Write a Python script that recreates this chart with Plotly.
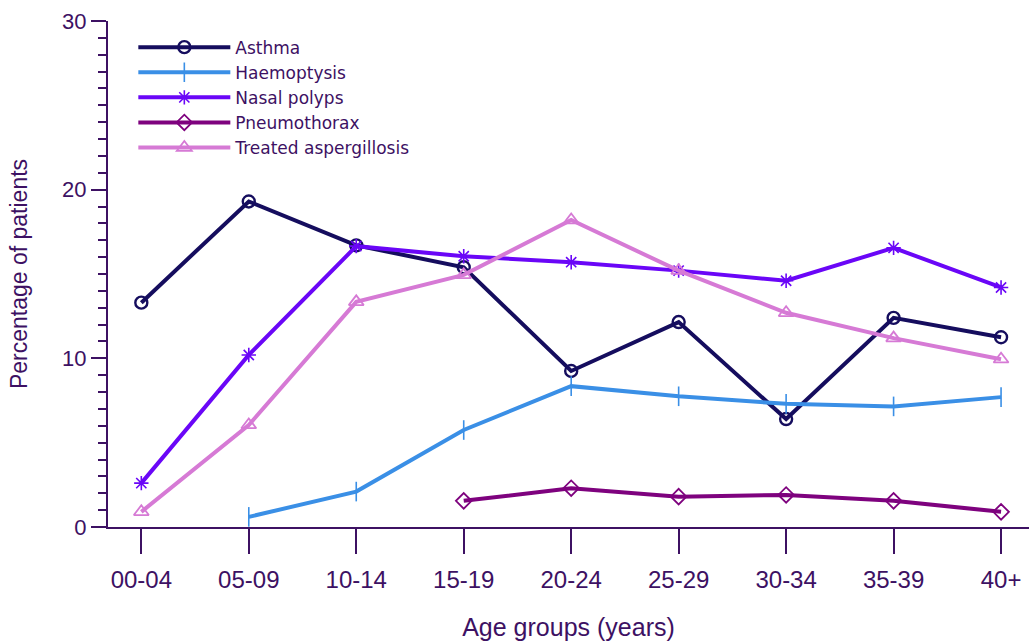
import plotly.graph_objects as go

# Age groups on the x axis
age_groups = ["00-04", "05-09", "10-14", "15-19", "20-24", "25-29", "30-34", "35-39", "40+"]

# Percentage of patients per age group (None = no value reported)
asthma = [13.3, 19.3, 16.7, 15.4, 9.25, 12.15, 6.4, 12.4, 11.25]
haemoptysis = [None, 0.6, 2.1, 5.75, 8.35, 7.75, 7.3, 7.15, 7.7]
nasal_polyps = [2.6, 10.2, 16.65, 16.05, 15.7, 15.2, 14.6, 16.55, 14.2]
pneumothorax = [None, None, None, 1.55, 2.3, 1.8, 1.9, 1.55, 0.9]
treated_aspergillosis = [0.9, 6.05, 13.35, 14.95, 18.2, 15.2, 12.7, 11.2, 9.95]

y_ticks = [0, 10, 20, 30]

INK = "#3d1163"
FONT = "Liberation Sans, Arial, sans-serif"
LEGEND_FONT = "DejaVu Sans, Verdana, sans-serif"

series = [
    ("Asthma", asthma, "#150d5e", "circle-open", 12, 2.4),
    ("Haemoptysis", haemoptysis, "#3a8fe6", "line-ns", 14, 1.6),
    ("Nasal polyps", nasal_polyps, "#6a06f7", "asterisk", 12, 1.6),
    ("Pneumothorax", pneumothorax, "#7e027e", "diamond-open", 12, 1.8),
    ("Treated aspergillosis", treated_aspergillosis, "#d67ad5", "triangle-up-open", 13, 1.8),
]

fig = go.Figure()
for name, values, color, symbol, size, mlw in series:
    fig.add_trace(go.Scatter(
        x=age_groups,
        y=values,
        name=name,
        mode="lines+markers",
        connectgaps=False,
        line=dict(color=color, width=4),
        marker=dict(symbol=symbol, size=size, color=color,
                    line=dict(color=color, width=mlw)),
    ))

fig.update_layout(
    width=1029,
    height=641,
    margin=dict(l=108, r=0, t=21, b=114),
    paper_bgcolor="white",
    plot_bgcolor="white",
    font=dict(family=FONT, color=INK, size=20),
    showlegend=True,
    legend=dict(
        x=0.0275, y=0.983, xanchor="left", yanchor="top",
        bgcolor="rgba(0,0,0,0)",
        font=dict(family=LEGEND_FONT, size=17, color=INK),
        itemwidth=92,
        tracegroupgap=0,
    ),
    xaxis=dict(
        type="category",
        categoryorder="array",
        categoryarray=age_groups,
        range=[-0.31, 8.26],
        showgrid=False,
        zeroline=False,
        showline=True,
        linecolor=INK,
        linewidth=2,
        ticks="outside",
        ticklen=25,
        tickwidth=1.5,
        tickcolor=INK,
        ticklabelstandoff=5,
        tickfont=dict(family=FONT, size=24, color=INK),
        title=dict(text="Age groups (years)", font=dict(family=FONT, size=25, color=INK), standoff=30),
    ),
    yaxis=dict(
        range=[0, 30],
        tickvals=y_ticks,
        showgrid=False,
        zeroline=False,
        showline=True,
        linecolor=INK,
        linewidth=2,
        ticks="outside",
        ticklen=15,
        tickwidth=2,
        tickcolor=INK,
        minor=dict(dtick=1, ticks="outside", ticklen=8, tickwidth=2, tickcolor=INK, showgrid=False),
        tickfont=dict(family=FONT, size=22, color=INK),
        title=dict(text="Percentage of patients", font=dict(family=FONT, size=23, color=INK), standoff=28),
    ),
)

fig.write_html("out.html")
